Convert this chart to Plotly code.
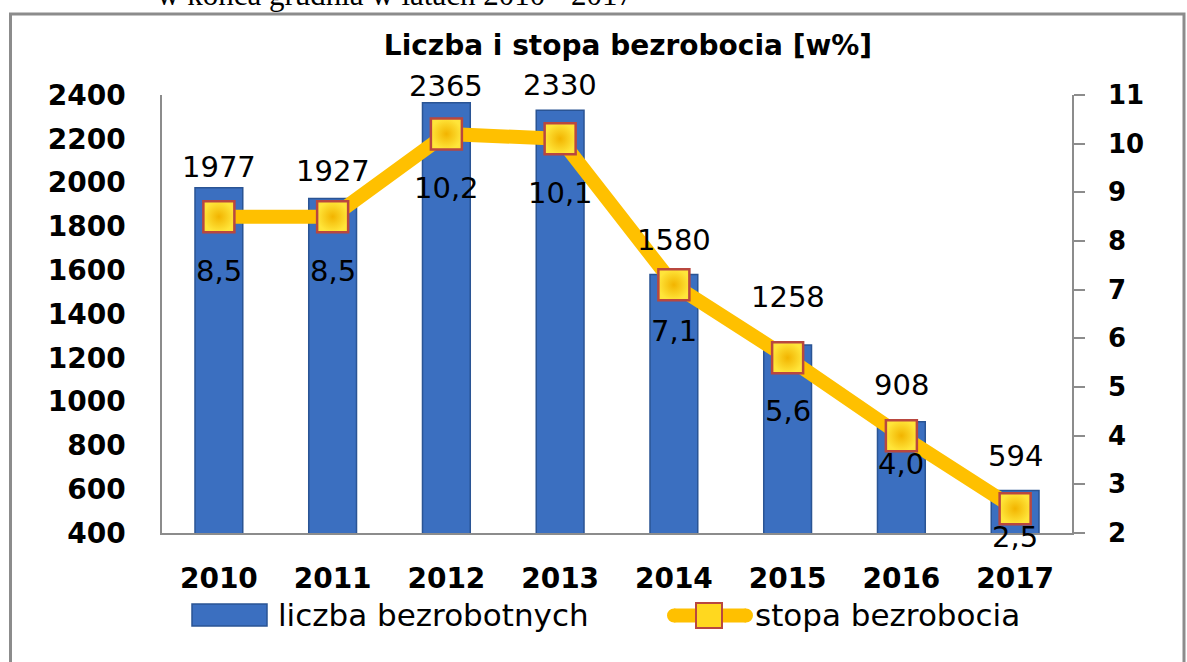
import plotly.graph_objects as go

# ---- data ----
years = [2010, 2011, 2012, 2013, 2014, 2015, 2016, 2017]
year_labels = ["2010", "2011", "2012", "2013", "2014", "2015", "2016", "2017"]
unemployed = [1977, 1927, 2365, 2330, 1580, 1258, 908, 594]
rate = [8.5, 8.5, 10.2, 10.1, 7.1, 5.6, 4.0, 2.5]
rate_labels = ["8,5", "8,5", "10,2", "10,1", "7,1", "5,6", "4,0", "2,5"]
left_ticks = [400, 600, 800, 1000, 1200, 1400, 1600, 1800, 2000, 2200, 2400]
right_ticks = [2, 3, 4, 5, 6, 7, 8, 9, 10, 11]

# label offsets (pixels) – layout only
bar_label_shift = [21, 28, 17, 25, 35, 48, 37, 35]
rate_label_shift = [-54, -54, -54, -54, -46, -53, -28, -28]

W, H = 1187, 662
L, R, T, B = 162, 115, 95, 129
PW, PH = W - L - R, H - T - B


def px(x):
    return (x - L) / PW


def py(y):
    return (H - B - y) / PH


BLUE = "#3B6FC0"
BLUE_EDGE = "#2A5494"
YELLOW = "#FFC000"
AXIS = "#8c8c8c"
FONT = "DejaVu Sans"

fig = go.Figure()
fig.add_trace(go.Bar(
    x=years, y=unemployed, name="liczba bezrobotnych",
    marker=dict(color=BLUE, line=dict(color=BLUE_EDGE, width=1.5)),
    width=0.42, yaxis="y",
))
fig.add_trace(go.Scatter(
    x=years, y=rate, name="stopa bezrobocia", yaxis="y2",
    mode="lines+markers",
    line=dict(color=YELLOW, width=14),
    marker=dict(symbol="square", size=31, color="#FFE53A",
                gradient=dict(type="radial", color="#F2B400"),
                line=dict(color="#B9473F", width=2.5)),
    cliponaxis=False,
))

annotations = []
for yr, v, s in zip(years, unemployed, bar_label_shift):
    annotations.append(dict(x=yr, y=v, xref="x", yref="y", text=str(v),
                            showarrow=False, yshift=s, yanchor="middle",
                            font=dict(family=FONT, size=29, color="black")))
for yr, v, lab, s in zip(years, rate, rate_labels, rate_label_shift):
    annotations.append(dict(x=yr, y=v, xref="x", yref="y2", text=lab,
                            showarrow=False, yshift=s, yanchor="middle",
                            font=dict(family=FONT, size=29, color="black")))

# cut-off caption at the very top (as in the source image)
annotations.append(dict(x=px(395), y=py(-5), xref="paper", yref="paper",
                        text="w końca grudnia w latach 2010 - 2017",
                        showarrow=False, xanchor="center", yanchor="middle",
                        font=dict(family="Liberation Serif", size=31, color="black")))

# custom legend texts
annotations.append(dict(x=px(276), y=py(615), xref="paper", yref="paper",
                        text="liczba bezrobotnych", showarrow=False,
                        xanchor="left", yanchor="middle",
                        font=dict(family=FONT, size=31, color="black")))
annotations.append(dict(x=px(753), y=py(615), xref="paper", yref="paper",
                        text="stopa bezrobocia", showarrow=False,
                        xanchor="left", yanchor="middle",
                        font=dict(family=FONT, size=31, color="black")))

shapes = [
    # outer frame
    dict(type="rect", xref="paper", yref="paper",
         x0=px(10.5), x1=px(1184), y0=py(680), y1=py(14),
         line=dict(color=AXIS, width=3), fillcolor="rgba(0,0,0,0)", layer="below"),
    # legend: bar symbol
    dict(type="rect", xref="paper", yref="paper",
         x0=px(192), x1=px(267), y0=py(626), y1=py(604),
         line=dict(color=BLUE_EDGE, width=1.5), fillcolor=BLUE),
    # legend: line symbol
    dict(type="line", xref="paper", yref="paper",
         x0=px(674), x1=px(746), y0=py(615.5), y1=py(615.5),
         line=dict(color=YELLOW, width=14)),
    dict(type="circle", xref="paper", yref="paper",
         x0=px(667), x1=px(681), y0=py(622.5), y1=py(608.5),
         line=dict(width=0), fillcolor=YELLOW),
    dict(type="circle", xref="paper", yref="paper",
         x0=px(739), x1=px(753), y0=py(622.5), y1=py(608.5),
         line=dict(width=0), fillcolor=YELLOW),
    dict(type="rect", xref="paper", yref="paper",
         x0=px(696), x1=px(722), y0=py(628), y1=py(603),
         line=dict(color="#B9473F", width=2), fillcolor="#FFD81F"),
]

fig.update_layout(
    width=W, height=H,
    margin=dict(l=L, r=R, t=T, b=B, pad=0),
    paper_bgcolor="white", plot_bgcolor="white",
    font=dict(family=FONT, color="black"),
    showlegend=False,
    title=dict(text="Liczba i stopa bezrobocia [w%]",
               x=628 / W, xanchor="center", y=1 - 45 / H, yanchor="middle",
               font=dict(family=FONT, size=28, color="black", weight="bold")),
    xaxis=dict(range=[2009.5, 2017.5], tickvals=years, ticktext=year_labels,
               showline=True, linecolor=AXIS, linewidth=1.5,
               ticks="", showgrid=False, zeroline=False, ticklabelstandoff=20,
               tickfont=dict(family=FONT, size=28, color="black", weight="bold")),
    yaxis=dict(range=[400, 2400], tickvals=left_ticks, showgrid=False,
               zeroline=False, showline=True, linecolor=AXIS, linewidth=1.5,
               ticks="", ticklabelstandoff=29,
               tickfont=dict(family=FONT, size=28, color="black", weight="bold")),
    yaxis2=dict(range=[2, 11], tickvals=right_ticks, overlaying="y", side="right",
                showgrid=False, zeroline=False, showline=True, linecolor=AXIS,
                linewidth=1.5, ticks="outside", ticklen=11, tickcolor=AXIS,
                tickwidth=1.5, ticklabelstandoff=18,
                tickfont=dict(family=FONT, size=26, color="black", weight="bold")),
    annotations=annotations,
    shapes=shapes,
)

fig.write_html("out.html", config={"displayModeBar": False},
               post_script="document.body.style.margin='0';")
